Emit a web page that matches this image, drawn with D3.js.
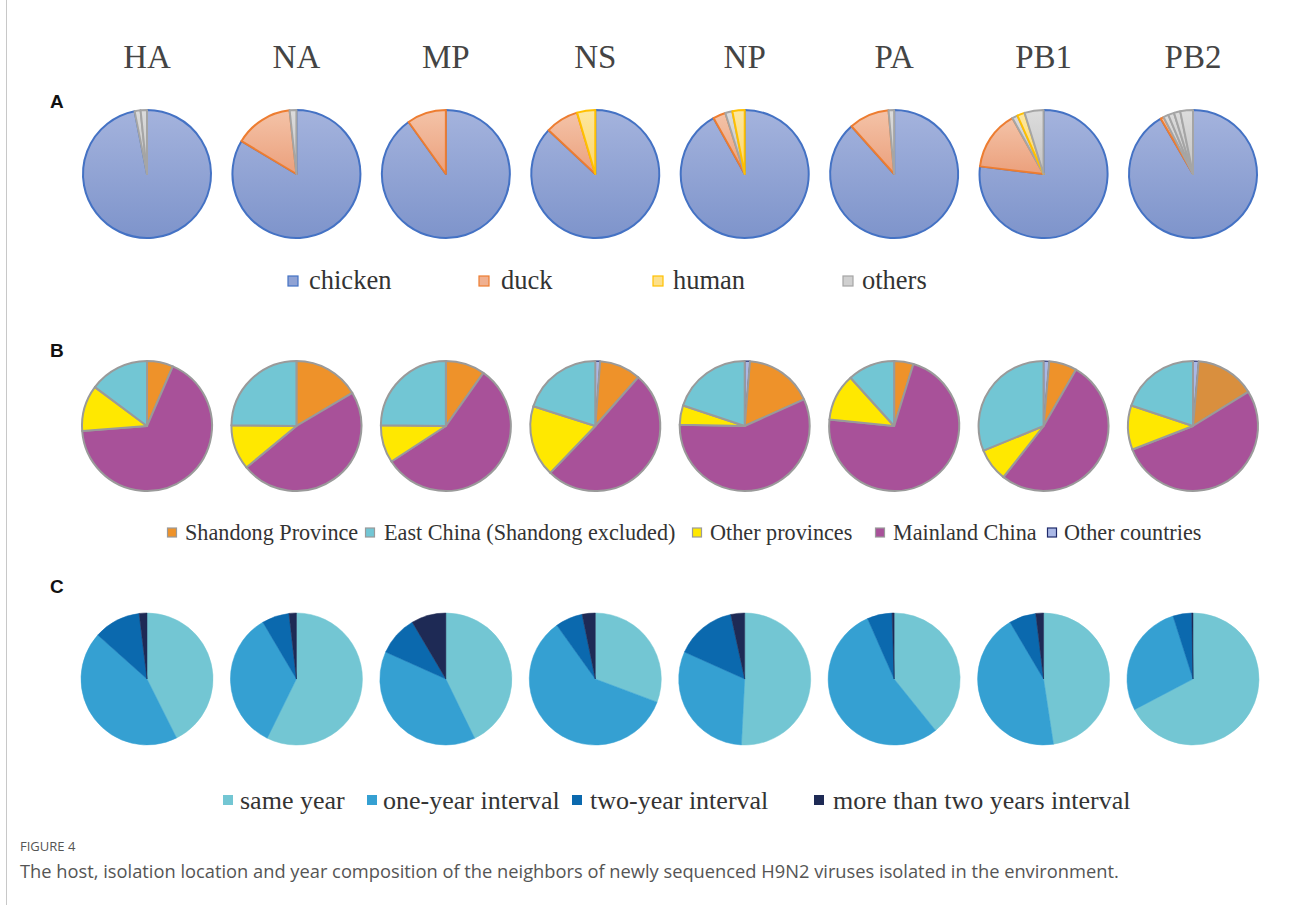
<!DOCTYPE html>
<html>
<head>
<meta charset="utf-8">
<script src="https://cdn.jsdelivr.net/npm/d3@7"></script>
<style>
  html, body { margin: 0; padding: 0; background: #fff; }
  svg { display: block; }
</style>
</head>
<body>
<svg id="chart" width="1293" height="905"></svg>
<script>
// Gene segments shown in each column
const genes = ["HA", "NA", "MP", "NS", "NP", "PA", "PB1", "PB2"];

// Panel A: host composition (%), slices listed clockwise from 12 o'clock
const hostKeys = ["chicken", "duck", "human", "others"];
const hostSlices = [
  [["chicken", 96.9], ["others", 1.5], ["others", 1.6]],
  [["chicken", 83.6], ["duck", 14.7], ["others", 1.7]],
  [["chicken", 90.1], ["duck", 9.9]],
  [["chicken", 87.0], ["duck", 8.4], ["human", 4.6]],
  [["chicken", 91.9], ["duck", 3.2], ["others", 1.8], ["human", 3.1]],
  [["chicken", 88.4], ["duck", 10.2], ["others", 1.4]],
  [["chicken", 76.9], ["duck", 15.0], ["others", 1.4], ["human", 1.9], ["others", 4.8]],
  [["chicken", 91.6], ["duck", 0.8], ["others", 1.3], ["others", 1.5], ["others", 1.6], ["others", 3.2]]
];

// Panel B: isolation location (%), per gene
const locKeys = ["Other countries", "Shandong Province", "Mainland China", "Other provinces", "East China (Shandong excluded)"];
const otherCountries = [0, 0, 0, 1.2, 1.3, 0, 1.4, 1.4];
const shandong       = [6.5, 16.5, 9.8, 10.3, 17.0, 4.8, 6.9, 14.8];
const mainland       = [67.3, 47.5, 56.0, 50.7, 57.0, 71.8, 52.3, 52.9];
const otherProvinces = [11.4, 11.2, 9.4, 17.7, 4.8, 11.7, 8.2, 11.0];
const eastChina      = [14.8, 24.8, 24.8, 20.1, 19.9, 11.7, 31.2, 19.9];
const locLegend = ["Shandong Province", "East China (Shandong excluded)", "Other provinces", "Mainland China", "Other countries"];

// Panel C: isolation year relative to the sequenced virus (%), per gene
const yearKeys = ["same year", "one-year interval", "two-year interval", "more than two years interval"];
const sameYear  = [42.6, 57.3, 42.8, 30.7, 50.8, 39.2, 47.6, 67.3];
const oneYear   = [44.0, 34.2, 38.9, 59.4, 30.9, 54.2, 43.9, 27.8];
const twoYear   = [11.5, 6.7, 9.8, 6.7, 14.9, 6.1, 6.6, 4.6];
const moreYears = [1.9, 1.8, 8.5, 3.2, 3.4, 0.5, 1.9, 0.3];

const svg = d3.select("#chart");

// frame line on the left edge
svg.append("line").attr("x1", 6.5).attr("x2", 6.5).attr("y1", 0).attr("y2", 905)
  .attr("stroke", "#c8c8c8").attr("stroke-width", 1);

const x = d3.scalePoint().domain(genes).range([147, 1193]);
const serif = "'Liberation Serif', 'Times New Roman', serif";
const sans = "'Liberation Sans', Arial, sans-serif";

// column headers
svg.append("g").selectAll("text").data(genes).join("text")
  .attr("x", d => x(d)).attr("y", 68)
  .attr("text-anchor", "middle")
  .attr("font-family", serif).attr("font-size", 33)
  .attr("fill", "#444").text(d => d);

// panel letters
[["A", 108], ["B", 357], ["C", 593]].forEach(([t, y]) => {
  svg.append("text").attr("x", 50).attr("y", y)
    .attr("font-family", sans).attr("font-weight", "bold").attr("font-size", 19)
    .attr("fill", "#111").text(t);
});

const defs = svg.append("defs");
function vgrad(id, top, bottom) {
  const g = defs.append("linearGradient").attr("id", id)
    .attr("x1", 0).attr("y1", 0).attr("x2", 0).attr("y2", 1);
  g.append("stop").attr("offset", "0%").attr("stop-color", top);
  g.append("stop").attr("offset", "100%").attr("stop-color", bottom);
}
vgrad("g-chicken", "#a4b3dd", "#7e94cb");
vgrad("g-duck", "#f4c3a8", "#eba07c");
vgrad("g-human", "#fde7a0", "#fbd66a");
vgrad("g-others", "#dcdcdc", "#c4c4c4");

const hostFill = d3.scaleOrdinal().domain(hostKeys)
  .range(["url(#g-chicken)", "url(#g-duck)", "url(#g-human)", "url(#g-others)"]);
const hostStroke = d3.scaleOrdinal().domain(hostKeys)
  .range(["#4472c4", "#ed7d31", "#ffc000", "#a5a5a5"]);
const hostSwatch = d3.scaleOrdinal().domain(hostKeys)
  .range(["#8fa2d4", "#f0b090", "#fde08a", "#d0d0d0"]);

const pie = d3.pie().sort(null).value(d => d[1]);

// ---- Panel A ----
const rA = 64, cyA = 174;
const arcA = d3.arc().innerRadius(0).outerRadius(rA);
genes.forEach((g, i) => {
  const grp = svg.append("g").attr("transform", `translate(${x(g)},${cyA})`);
  grp.selectAll("path").data(pie(hostSlices[i])).join("path")
    .attr("d", arcA)
    .attr("fill", d => hostFill(d.data[0]))
    .attr("stroke", d => hostStroke(d.data[0]))
    .attr("stroke-width", 2).attr("stroke-linejoin", "round");
});

// legend A
const legA = [[293, 309], [484, 501], [658, 673], [848, 862]];
hostKeys.forEach((k, i) => {
  const [mx, tx] = legA[i];
  svg.append("rect").attr("x", mx - 5).attr("y", 276).attr("width", 10).attr("height", 10)
    .attr("fill", hostSwatch(k)).attr("stroke", hostStroke(k)).attr("stroke-width", 1.2);
  svg.append("text").attr("x", tx).attr("y", 289)
    .attr("font-family", serif).attr("font-size", 26.5).attr("fill", "#333").text(k);
});

// ---- Panel B ----
const locColor = d3.scaleOrdinal().domain(locKeys)
  .range(["#aab8e6", "#ee922a", "#a85199", "#ffe800", "#72c6d4"]);
const rB = 65, cyB = 426;
const arcB = d3.arc().innerRadius(0).outerRadius(rB);
const locSeries = [otherCountries, shandong, mainland, otherProvinces, eastChina];
genes.forEach((g, i) => {
  const slices = locKeys.map((k, j) => [k, locSeries[j][i]]);
  const grp = svg.append("g").attr("transform", `translate(${x(g)},${cyB})`);
  grp.selectAll("path").data(pie(slices).filter(d => d.data[1] > 0)).join("path")
    .attr("d", arcB)
    .attr("fill", d => (g === "PB2" && d.data[0] === "Shandong Province") ? "#d98f3e" : locColor(d.data[0]))
    .attr("stroke", d => d.data[0] === "Other countries" ? "#1f2a6a" : "#9a9a9a")
    .attr("stroke-width", d => d.data[0] === "Other countries" ? 1.2 : 2)
    .attr("stroke-linejoin", "round");
});

// legend B
const legB = [[172, 185], [370, 384], [697, 710], [880, 893], [1052, 1064]];
locLegend.forEach((k, i) => {
  const [mx, tx] = legB[i];
  svg.append("rect").attr("x", mx - 4.5).attr("y", 528).attr("width", 9).attr("height", 9)
    .attr("fill", locColor(k)).attr("stroke", k === "Other countries" ? "#1f2a6a" : "#9a9a9a")
    .attr("stroke-width", 1.2);
  svg.append("text").attr("x", tx).attr("y", 540)
    .attr("font-family", serif).attr("font-size", 22.2).attr("fill", "#333").text(k);
});

// ---- Panel C ----
const yearColor = d3.scaleOrdinal().domain(yearKeys)
  .range(["#73c6d3", "#35a0d2", "#0b69ae", "#1e2a55"]);
const rC = 66, cyC = 679;
const arcC = d3.arc().innerRadius(0).outerRadius(rC);
const yearSeries = [sameYear, oneYear, twoYear, moreYears];
genes.forEach((g, i) => {
  const slices = yearKeys.map((k, j) => [k, yearSeries[j][i]]);
  const grp = svg.append("g").attr("transform", `translate(${x(g)},${cyC})`);
  grp.selectAll("path").data(pie(slices)).join("path")
    .attr("d", arcC)
    .attr("fill", d => yearColor(d.data[0]))
    .attr("stroke", d => yearColor(d.data[0])).attr("stroke-width", 0.5);
});

// legend C
const legC = [[228, 240], [372, 383], [577, 590], [819, 833]];
yearKeys.forEach((k, i) => {
  const [mx, tx] = legC[i];
  svg.append("rect").attr("x", mx - 5).attr("y", 795).attr("width", 10).attr("height", 10)
    .attr("fill", yearColor(k));
  svg.append("text").attr("x", tx).attr("y", 809)
    .attr("font-family", serif).attr("font-size", 26).attr("fill", "#333").text(k);
});

// caption
svg.append("text").attr("x", 20).attr("y", 851)
  .attr("font-family", "'Open Sans', sans-serif").attr("font-size", 13)
  .attr("fill", "#555").text("FIGURE 4");
svg.append("text").attr("x", 20).attr("y", 878)
  .attr("font-family", "'Open Sans', sans-serif").attr("font-size", 18.3)
  .attr("fill", "#555")
  .text("The host, isolation location and year composition of the neighbors of newly sequenced H9N2 viruses isolated in the environment.");
</script>
</body>
</html>
